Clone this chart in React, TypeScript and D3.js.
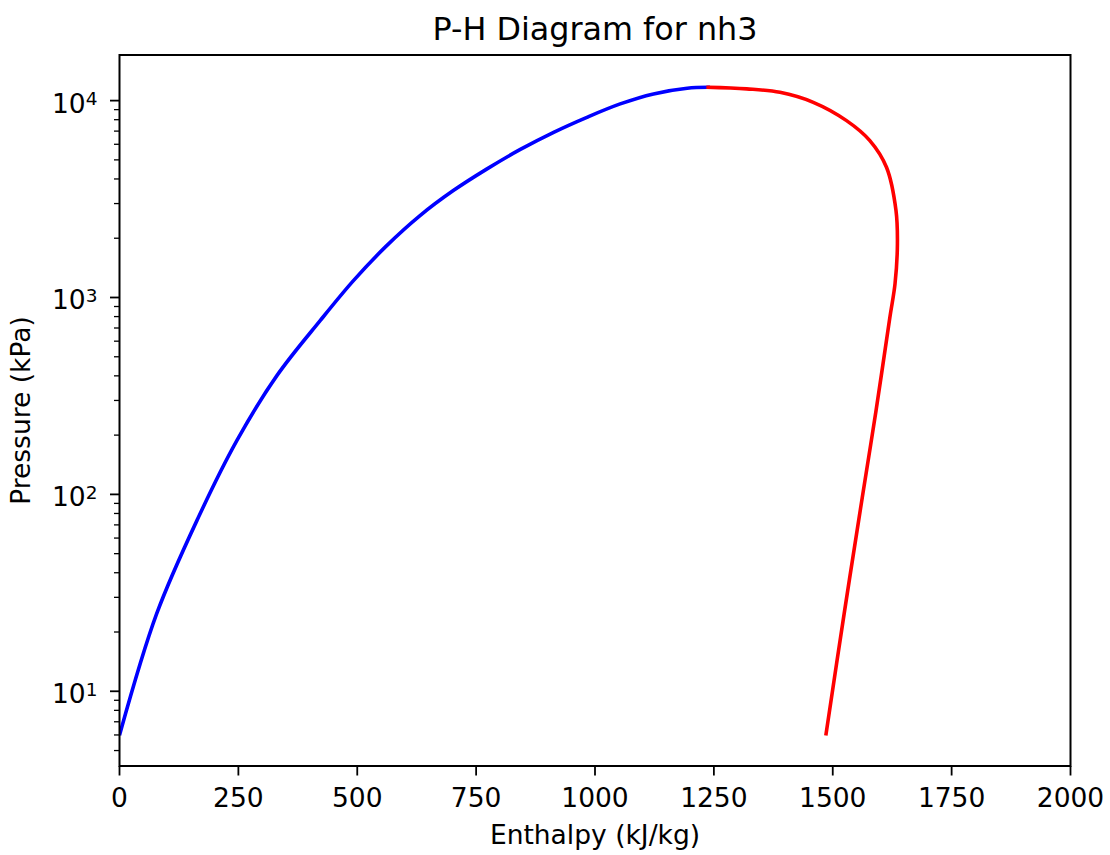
import React from "react";
import * as d3 from "d3";

const blueEnthalpy = [1, 78, 166, 247, 331, 422, 492, 562, 632, 702, 773, 843, 913, 983, 1053, 1123, 1194, 1238];
const bluePressure = [6.1, 24.7, 76.5, 188, 401, 763, 1218, 1834, 2606, 3491, 4500, 5650, 6902, 8226, 9621, 10815, 11548, 11682];

const redEnthalpy = [1238, 1319, 1389, 1459, 1529, 1578, 1613, 1633, 1636, 1631, 1620, 1591, 1562, 1524, 1486];
const redPressure = [11682, 11467, 11020, 9803, 7914, 6265, 4585, 2765, 1875, 1176, 790, 266, 96.2, 24.8, 6.09];

const xTicks = [0, 250, 500, 750, 1000, 1250, 1500, 1750, 2000];
const yMajorExps = [1, 2, 3, 4];

const title = "P-H Diagram for nh3";
const xLabel = "Enthalpy (kJ/kg)";
const yLabel = "Pressure (kPa)";

const W = 1110;
const H = 855;
const left = 119.5;
const right = 1070.5;
const top = 55;
const bottom = 766;
const FONT = "'DejaVu Sans', sans-serif";
const FS = 26.5;

export default function App() {
  const x = d3.scaleLinear().domain([0, 2000]).range([left, right]);
  const allP = [...bluePressure, ...redPressure];
  const lo = Math.log10(d3.min(allP) as number);
  const hi = Math.log10(d3.max(allP) as number);
  const m = (hi - lo) * 0.05;
  const y = d3.scaleLog().domain([Math.pow(10, lo - m), Math.pow(10, hi + m)]).range([bottom, top]);

  const blue = blueEnthalpy.map((h, i) => [h, bluePressure[i]] as [number, number]);
  const red = redEnthalpy.map((h, i) => [h, redPressure[i]] as [number, number]);
  const lineSmooth = d3
    .line<[number, number]>()
    .x((d) => x(d[0]))
    .y((d) => y(d[1]))
    .curve(d3.curveCatmullRom.alpha(0.5));

  const [d0, d1] = y.domain();
  const minor: number[] = [];
  for (let e = Math.floor(Math.log10(d0)); e <= Math.ceil(Math.log10(d1)); e++) {
    for (let k = 2; k <= 9; k++) {
      const v = k * Math.pow(10, e);
      if (v >= d0 && v <= d1) minor.push(v);
    }
  }

  return (
    <div style={{ position: "absolute", left: 0, top: 0 }}>
      <svg width={W} height={H} style={{ display: "block", background: "#fff" }}>
        <rect x={0} y={0} width={W} height={H} fill="#fff" />
        <defs>
          <clipPath id="plotclip">
            <rect x={left} y={top} width={right - left} height={bottom - top} />
          </clipPath>
        </defs>
        <g clipPath="url(#plotclip)">
          <path d={lineSmooth(blue) || ""} fill="none" stroke="#0000ff" strokeWidth={3.6} strokeLinecap="square" strokeLinejoin="round" />
          <path d={lineSmooth(red) || ""} fill="none" stroke="#ff0000" strokeWidth={3.6} strokeLinecap="square" strokeLinejoin="round" />
        </g>
        <rect x={left} y={top} width={right - left} height={bottom - top} fill="none" stroke="#000" strokeWidth={2} />
        {xTicks.map((t) => (
          <g key={"xt" + t}>
            <line x1={x(t)} x2={x(t)} y1={bottom} y2={bottom + 9.5} stroke="#000" strokeWidth={1.8} />
            <text x={x(t)} y={806.5} textAnchor="middle" fontFamily={FONT} fontSize={FS} fill="#000">
              {t}
            </text>
          </g>
        ))}
        {minor.map((v) => (
          <line key={"mn" + v} x1={left - 5.5} x2={left} y1={y(v)} y2={y(v)} stroke="#000" strokeWidth={1.3} />
        ))}
        {yMajorExps.map((e) => {
          const yy = y(Math.pow(10, e));
          return (
            <g key={"ym" + e}>
              <line x1={left - 9.5} x2={left} y1={yy} y2={yy} stroke="#000" strokeWidth={1.8} />
              <text x={97.5} y={yy + 12} textAnchor="end" fontFamily={FONT} fontSize={FS} fill="#000">
                10
                <tspan fontSize={18.5} dy={-7.5}>
                  {e}
                </tspan>
              </text>
            </g>
          );
        })}
        <text x={(left + right) / 2} y={40} textAnchor="middle" fontFamily={FONT} fontSize={31.8} fill="#000">
          {title}
        </text>
        <text x={(left + right) / 2} y={844} textAnchor="middle" fontFamily={FONT} fontSize={FS} fill="#000">
          {xLabel}
        </text>
        <text
          transform={`translate(30,${(top + bottom) / 2}) rotate(-90)`}
          textAnchor="middle"
          fontFamily={FONT}
          fontSize={FS}
          fill="#000"
        >
          {yLabel}
        </text>
      </svg>
    </div>
  );
}
